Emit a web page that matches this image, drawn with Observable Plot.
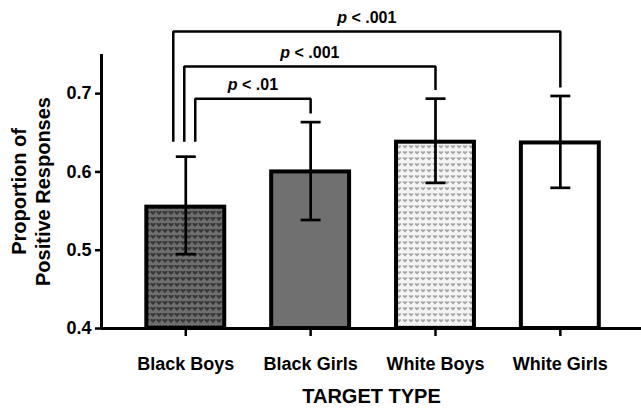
<!DOCTYPE html>
<html>
<head>
<meta charset="utf-8">
<script src="https://cdn.jsdelivr.net/npm/d3@7"></script>
<script src="https://cdn.jsdelivr.net/npm/@observablehq/plot@0.6"></script>
<style>
  html, body { margin: 0; padding: 0; background: white; }
  #chart { width: 641px; height: 412px; }
</style>
</head>
<body>
<div id="chart"></div>
<script>
// ---- data ----
const categories = ["Black Boys", "Black Girls", "White Boys", "White Girls"];
const means = [0.555, 0.600, 0.638, 0.637];
const upper = [0.6195, 0.6636, 0.6936, 0.697];
const lower = [0.495, 0.5386, 0.586, 0.5797];
const yTicks = [0.4, 0.5, 0.6, 0.7];
const bracketTo = [1, 2, 3];
const bracketLevel = [0.6936, 0.7346, 0.7795];
const bracketLabels = ["p < .01", "p < .001", "p < .001"];

// ---- layout constants ----
const half = 0.312;        // half bar width (x units)
const capHalf = 0.08;      // half error cap width
const legOffsets = [0.076, -0.012, -0.1]; // left leg offsets from Black Boys centre

const bars = categories.map((c, i) => ({i, c, mean: means[i], lo: lower[i], hi: upper[i]}));
const brackets = bracketTo.map((to, k) => {
  const lx = legOffsets[k];
  return {k, lx, to, level: bracketLevel[k], label: bracketLabels[k],
          leftEnd: upper[0] + 0.019, rightEnd: upper[to] + 0.011};
});
const bracketPts = brackets.flatMap(b => [
  {k: b.k, x: b.lx, y: b.leftEnd},
  {k: b.k, x: b.lx, y: b.level},
  {k: b.k, x: b.to, y: b.level},
  {k: b.k, x: b.to, y: b.rightEnd}
]);

const svg = Plot.plot({
  width: 641,
  height: 412,
  marginTop: 54,
  marginBottom: 84,
  marginLeft: 101,
  marginRight: 0,
  style: {fontFamily: "'Liberation Sans', Arial, sans-serif", color: "black", background: "white"},
  x: {type: "linear", domain: [-0.675, 3.65]},
  y: {domain: [0.4, 0.75]},
  color: {type: "ordinal", domain: categories, range: ["url(#patBB)", "#707070", "url(#patWB)", "white"]},
  marks: [
    Plot.rect(bars, {x1: d => d.i - half, x2: d => d.i + half, y1: 0.4, y2: "mean",
      fill: "c", stroke: "black", strokeWidth: 4}),
    Plot.ruleX(bars, {x: "i", y1: "lo", y2: "hi", stroke: "black", strokeWidth: 2.7}),
    Plot.link(bars, {x1: d => d.i - capHalf, x2: d => d.i + capHalf, y1: "hi", y2: "hi", stroke: "black", strokeWidth: 2.7}),
    Plot.link(bars, {x1: d => d.i - capHalf, x2: d => d.i + capHalf, y1: "lo", y2: "lo", stroke: "black", strokeWidth: 2.7}),
    Plot.ruleY([0.4], {stroke: "black", strokeWidth: 3}),
    Plot.ruleX([-0.675], {y1: 0.4, y2: 0.75, stroke: "black", strokeWidth: 3}),
    Plot.axisY({ticks: yTicks, tickFormat: d3.format(".1f"), tickSize: 6, tickPadding: 4,
      fontSize: 18, fontWeight: "bold", strokeWidth: 2.5, label: null}),
    Plot.axisX({ticks: [0, 1, 2, 3], tickFormat: i => categories[i], tickSize: 8, tickPadding: 21,
      fontSize: 18, fontWeight: "bold", strokeWidth: 2.5, label: null}),
    Plot.line(bracketPts, {x: "x", y: "y", z: "k", stroke: "black", strokeWidth: 2.5,
      strokeLinejoin: "miter", strokeLinecap: "butt"}),
    Plot.text(brackets, {x: d => (d.lx + d.to) / 2, y: "level", dy: -14, text: "label",
      fontSize: 16, fontWeight: "bold"}),
    Plot.text(["Proportion of\nPositive Responses"], {frameAnchor: "left", dx: -71, rotate: -90,
      fontSize: 20, fontWeight: "bold", lineHeight: 1.2, textAnchor: "middle"}),
    Plot.text(["TARGET TYPE"], {frameAnchor: "bottom", dy: 74, fontSize: 20, fontWeight: "bold"})
  ]
});

// patterns
const ns = "http://www.w3.org/2000/svg";
const defs = document.createElementNS(ns, "defs");
defs.innerHTML = `
<pattern id="patBB" width="6" height="6" patternUnits="userSpaceOnUse">
  <rect width="6" height="6" fill="#6e6e6e"/>
  <path d="M0.5,1 L2.3,1 L3,1.9 L3.7,1 L5.5,1 L5.5,2.6 L3,5 L0.5,2.6Z" fill="#383838"/>
</pattern>
<pattern id="patWB" width="6" height="6" patternUnits="userSpaceOnUse">
  <rect width="6" height="6" fill="#f4f4f4"/>
  <path d="M0.8,1.2 L2.4,1.2 L3,2 L3.6,1.2 L5.2,1.2 L5.2,2.6 L3,4.6 L0.8,2.6Z" fill="#a8a8a8"/>
</pattern>`;
svg.insertBefore(defs, svg.firstChild);

// italic p
svg.querySelectorAll("text").forEach(t => {
  if (t.children.length === 0 && t.textContent.startsWith("p <")) {
    const rest = t.textContent.slice(1);
    t.textContent = "";
    const tp = document.createElementNS(ns, "tspan");
    tp.setAttribute("font-style", "italic");
    tp.textContent = "p";
    t.appendChild(tp);
    t.appendChild(document.createTextNode(rest));
  }
});

document.getElementById("chart").appendChild(svg);
</script>
</body>
</html>
